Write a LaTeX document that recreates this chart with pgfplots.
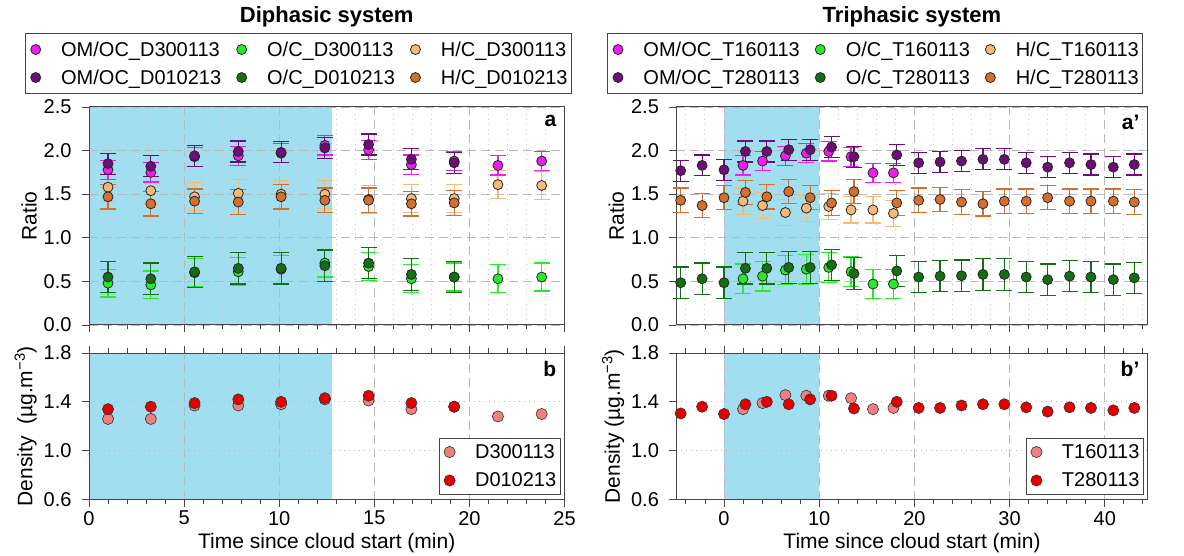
\documentclass[border=0pt]{standalone}
\usepackage{fontspec}
\setmainfont{Liberation Sans}
\usepackage{pgfplots}
\usepackage{pgfplotstable}
\pgfplotsset{compat=1.18}

\definecolor{cmag}{RGB}{240,28,240}
\definecolor{cpur}{RGB}{110,12,120}
\definecolor{clgr}{RGB}{40,235,40}
\definecolor{cdgr}{RGB}{20,110,20}
\definecolor{clor}{RGB}{245,185,120}
\definecolor{cdor}{RGB}{212,112,45}
\definecolor{cldn}{RGB}{240,128,128}
\definecolor{cddn}{RGB}{228,0,0}
\definecolor{cloud}{RGB}{160,222,240}
\definecolor{frm}{RGB}{70,70,70}

% diphasic runs
\pgfplotstableread{
t     om    hc    oc    rho
1.00  1.78  1.58  0.48  1.26
3.25  1.75  1.54  0.46  1.26
5.55  1.93  1.47  0.60  1.37
7.85  1.94  1.51  0.61  1.37
10.1  1.97  1.50  0.64  1.38
12.4  2.06  1.50  0.71  1.42
14.7  2.01  1.44  0.67  1.41
16.95 1.84  1.45  0.53  1.34
19.2  1.88  1.45  0.55  1.36
21.5  1.83  1.61  0.53  1.28
23.8  1.88  1.60  0.55  1.30
}\tabDa
\pgfplotstableread{
t     om    hc    oc    rho
1.00  1.85  1.47  0.55  1.34
3.25  1.82  1.39  0.53  1.36
5.55  1.94  1.42  0.61  1.39
7.85  1.99  1.41  0.65  1.42
10.1  1.98  1.47  0.65  1.40
12.4  2.03  1.43  0.68  1.43
14.7  2.07  1.43  0.71  1.45
16.95 1.90  1.39  0.58  1.39
19.2  1.86  1.40  0.55  1.36
}\tabDb
% triphasic runs
\pgfplotstableread{
t     om    hc    oc    rho
2.00  1.83  1.42  0.53  1.34
4.05  1.88  1.37  0.56  1.39
6.45  1.94  1.29  0.63  1.455
8.65  1.97  1.34  0.64  1.45
11.0  1.99  1.36  0.66  1.45
13.35 1.93  1.32  0.61  1.43
15.65 1.745 1.32  0.47  1.34
17.8  1.745 1.28  0.47  1.35
}\tabTa
\pgfplotstableread{
t     om    hc    oc    rho
-4.55 1.77  1.43  0.485 1.305
-2.3  1.83  1.37  0.53  1.36
0.0   1.78  1.46  0.485 1.30
2.25  1.99  1.52  0.65  1.38
4.5   1.99  1.47  0.65  1.40
6.8   2.01  1.53  0.66  1.38
9.05  2.01  1.46  0.66  1.42
11.3  2.04  1.40  0.69  1.45
13.65 1.93  1.53  0.59  1.345
18.15 1.95  1.40  0.62  1.40
20.45 1.86  1.43  0.55  1.35
22.7  1.87  1.44  0.56  1.35
24.95 1.88  1.41  0.565 1.37
27.2  1.90  1.39  0.58  1.38
29.45 1.90  1.42  0.58  1.38
31.75 1.86  1.42  0.55  1.355
34.0  1.81  1.46  0.52  1.32
36.3  1.86  1.42  0.56  1.355
38.55 1.84  1.42  0.55  1.35
40.9  1.81  1.42  0.52  1.33
43.1  1.84  1.41  0.54  1.35
}\tabTb

\pgfplotsset{
  base/.style={
    scale only axis, clip=false, set layers,
    axis line style={draw=frm, line width=1pt},
    tick style={frm, line width=0.9pt},
    tick align=outside, major tick length=7pt, minor tick length=4.5pt,
    ytick pos=left,
    tick label style={font=\fontsize{20}{20}\selectfont},
    /pgf/number format/assume math mode=true,
    yticklabel style={xshift=-7pt, /pgf/number format/.cd, fixed, fixed zerofill, precision=1},
    xticklabel style={yshift=-1pt},
    label style={font=\fontsize{21}{24}\selectfont},
    xlabel shift=1pt,
    major grid style={gray!55, line width=0.9pt, dash pattern=on 9pt off 5pt},
    minor grid style={gray!45, line width=1pt, dash pattern=on 1pt off 4pt},
    legend cell align=left,
    legend style={draw=frm, line width=0.9pt, font=\fontsize{20}{24}\selectfont,
      inner xsep=2pt, inner ysep=6pt, /tikz/every even column/.append style={column sep=10pt}},
    legend image code/.code={\path (0pt,0pt) (31pt,0pt); \draw[##1] plot coordinates {(8pt,0pt)};},
  },
  pt/.style={only marks, mark=*, mark size=5pt, color=#1,
    mark options={fill=#1, draw=black!85, line width=0.8pt}},
  dn/.style={only marks, mark=*, mark size=5.6pt, color=#1,
    mark options={fill=#1, draw=black!80, line width=0.6pt}},
  eb/.style={/pgfplots/error bars/y dir=both, /pgfplots/error bars/y fixed=#1,
    /pgfplots/error bars/error bar style={line width=1.2pt},
    /pgfplots/error bars/error mark options={rotate=90, mark size=8pt, line width=1.2pt}},
}
\tikzset{
  lab/.style={anchor=north east, font=\bfseries\fontsize{21}{21}\selectfont},
  ttl/.style={font=\bfseries\fontsize{22}{22}\selectfont},
}

\begin{document}
\begin{tikzpicture}

%---------------- a : diphasic ratios
\begin{axis}[base, at={(89pt,-107pt)}, anchor=north west,
  width=475.5pt, height=218pt,
  xmin=0, xmax=25, ymin=0, ymax=2.5,
  xtick={0,5,10,15,20,25}, xticklabels={},
  minor xtick={1,2,3,4,6,7,8,9,11,12,13,14,16,17,18,19,21,22,23,24},
  xtick pos=bottom, ytick={0,0.5,1,1.5,2,2.5},
  xmajorgrids, xminorgrids, ymajorgrids,
  ylabel={Ratio},
  legend columns=3,
  legend style={at={(-0.135,1.339)}, anchor=north west, row sep=8pt}]
\addlegendimage{pt=cmag}\addlegendentry{OM/OC\_D300113}
\addlegendimage{pt=clgr}\addlegendentry{O/C\_D300113}
\addlegendimage{pt=clor}\addlegendentry{H/C\_D300113}
\addlegendimage{pt=cpur}\addlegendentry{OM/OC\_D010213}
\addlegendimage{pt=cdgr}\addlegendentry{O/C\_D010213}
\addlegendimage{pt=cdor}\addlegendentry{H/C\_D010213}
\addplot[draw=none, fill=cloud, on layer=axis background, forget plot]
  coordinates {(0,0) (0,2.5) (12.75,2.5) (12.75,0)} -- cycle;
\addplot[forget plot, pt=clor, eb=0.16] table[x=t, y=hc] {\tabDa};
\addplot[forget plot, pt=cdor, eb=0.14] table[x=t, y=hc] {\tabDb};
\addplot[forget plot, pt=clgr, eb=0.16] table[x=t, y=oc] {\tabDa};
\addplot[forget plot, pt=cdgr, eb=0.18] table[x=t, y=oc] {\tabDb};
\addplot[forget plot, pt=cmag, eb=0.11] table[x=t, y=om] {\tabDa};
\addplot[forget plot, pt=cpur, eb=0.12] table[x=t, y=om] {\tabDb};
\node[lab] at (rel axis cs:0.99,0.98) {a};
\node[ttl, yshift=90pt] at (rel axis cs:0.5,1) {Diphasic system};
\end{axis}

%---------------- b : diphasic density
\begin{axis}[base, at={(89pt,-353pt)}, anchor=north west,
  width=475.5pt, height=146.5pt,
  xmin=0, xmax=25, ymin=0.6, ymax=1.8,
  xtick={0,5,10,15,20,25},
  minor xtick={1,2,3,4,6,7,8,9,11,12,13,14,16,17,18,19,21,22,23,24},
  xtick pos=both, xticklabel pos=bottom, ytick={0.6,1.0,1.4,1.8},
  xmajorgrids, ymajorgrids,
  major y grid style={gray!55, line width=1pt, dash pattern=on 1pt off 4pt},
  xlabel={Time since cloud start (min)},
  ylabel={Density\ \ (µg.m\textsuperscript{−3})},
  legend style={at={(0.992,0.033)}, anchor=south east, row sep=9pt, inner ysep=4pt}]
\addplot[draw=none, fill=cloud, on layer=axis background, forget plot]
  coordinates {(0,0.6) (0,1.8) (12.75,1.8) (12.75,0.6)} -- cycle;
\addplot[dn=cldn] table[x=t, y=rho] {\tabDa};
\addlegendentry{D300113}
\addplot[dn=cddn] table[x=t, y=rho] {\tabDb};
\addlegendentry{D010213}
\node[lab] at (rel axis cs:0.99,0.97) {b};
\end{axis}

%---------------- a' : triphasic ratios
\begin{axis}[base, at={(676.4pt,-107pt)}, anchor=north west,
  width=471.2pt, height=218pt,
  xmin=-5, xmax=44.5, ymin=0, ymax=2.5,
  xtick={0,10,20,30,40}, xticklabels={},
  minor xtick={-4,-2,2,4,6,8,12,14,16,18,22,24,26,28,32,34,36,38,42,44},
  xtick pos=bottom, ytick={0,0.5,1,1.5,2,2.5},
  xmajorgrids, xminorgrids, ymajorgrids,
  ylabel={Ratio},
  legend columns=3,
  legend style={at={(-0.147,1.339)}, anchor=north west, row sep=8pt}]
\addlegendimage{pt=cmag}\addlegendentry{OM/OC\_T160113}
\addlegendimage{pt=clgr}\addlegendentry{O/C\_T160113}
\addlegendimage{pt=clor}\addlegendentry{H/C\_T160113}
\addlegendimage{pt=cpur}\addlegendentry{OM/OC\_T280113}
\addlegendimage{pt=cdgr}\addlegendentry{O/C\_T280113}
\addlegendimage{pt=cdor}\addlegendentry{H/C\_T280113}
\addplot[draw=none, fill=cloud, on layer=axis background, forget plot]
  coordinates {(0,0) (0,2.5) (10,2.5) (10,0)} -- cycle;
\addplot[forget plot, pt=clor, eb=0.15] table[x=t, y=hc] {\tabTa};
\addplot[forget plot, pt=cdor, eb=0.14] table[x=t, y=hc] {\tabTb};
\addplot[forget plot, pt=clgr, eb=0.17] table[x=t, y=oc] {\tabTa};
\addplot[forget plot, pt=cdgr, eb=0.18] table[x=t, y=oc] {\tabTb};
\addplot[forget plot, pt=cmag, eb=0.11] table[x=t, y=om] {\tabTa};
\addplot[forget plot, pt=cpur, eb=0.12] table[x=t, y=om] {\tabTb};
\node[lab] at (rel axis cs:0.99,0.98) {a\symbol{39}};
\node[ttl, yshift=90pt] at (rel axis cs:0.5,1) {Triphasic system};
\end{axis}

%---------------- b' : triphasic density
\begin{axis}[base, at={(676.4pt,-353pt)}, anchor=north west,
  width=471.2pt, height=146.5pt,
  xmin=-5, xmax=44.5, ymin=0.6, ymax=1.8,
  xtick={0,10,20,30,40},
  minor xtick={-4,-2,2,4,6,8,12,14,16,18,22,24,26,28,32,34,36,38,42,44},
  xtick pos=both, xticklabel pos=bottom, ytick={0.6,1.0,1.4,1.8},
  xmajorgrids, ymajorgrids,
  major y grid style={gray!55, line width=1pt, dash pattern=on 1pt off 4pt},
  xlabel={Time since cloud start (min)},
  ylabel={Density (µg.m\textsuperscript{−3})},
  legend style={at={(0.992,0.033)}, anchor=south east, row sep=9pt, inner ysep=4pt}]
\addplot[draw=none, fill=cloud, on layer=axis background, forget plot]
  coordinates {(0,0.6) (0,1.8) (10,1.8) (10,0.6)} -- cycle;
\addplot[dn=cldn] table[x=t, y=rho] {\tabTa};
\addlegendentry{T160113}
\addplot[dn=cddn] table[x=t, y=rho] {\tabTb};
\addlegendentry{T280113}
\node[lab] at (rel axis cs:0.99,0.97) {b\symbol{39}};
\end{axis}

\pgfresetboundingbox
\path[use as bounding box] (0pt,0pt) rectangle (1184pt,-556pt);
\end{tikzpicture}
\end{document}
